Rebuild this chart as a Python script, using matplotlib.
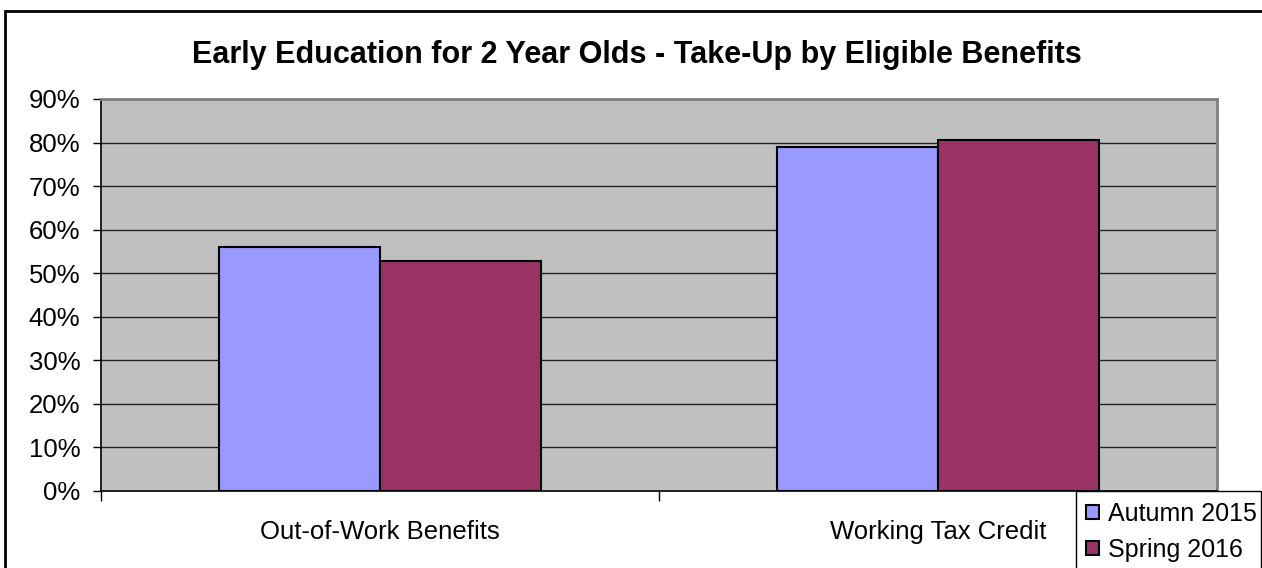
import matplotlib
matplotlib.use("Agg")
import matplotlib.pyplot as plt
from matplotlib.patches import Rectangle, Patch
import numpy as np

plt.rcParams['font.family'] = ['Liberation Sans', 'DejaVu Sans']

categories = ["Out-of-Work Benefits", "Working Tax Credit"]
series_names = ["Autumn 2015", "Spring 2016"]
autumn_2015 = [0.56, 0.789]
spring_2016 = [0.527, 0.807]
colors = ["#9999FF", "#993366"]
yticks = [0, 0.1, 0.2, 0.3, 0.4, 0.5, 0.6, 0.7, 0.8, 0.9]
ytick_labels = ["0%", "10%", "20%", "30%", "40%", "50%", "60%", "70%", "80%", "90%"]
title = "Early Education for 2 Year Olds - Take-Up by Eligible Benefits"

W, H = 1262, 568
fig = plt.figure(figsize=(W/100, H/100), dpi=100)
ax = fig.add_axes([101/W, 1-491/H, (1217-101)/W, (491-99)/H])
ax.set_facecolor("#C0C0C0")

x = np.arange(len(categories))
bw = 0.2885
ax.bar(x - bw/2, autumn_2015, bw, color=colors[0], edgecolor="black", linewidth=1.5, zorder=3)
ax.bar(x + bw/2, spring_2016, bw, color=colors[1], edgecolor="black", linewidth=1.5, zorder=3)

ax.set_xlim(-0.5, 1.5)
ax.set_ylim(0, 0.9)
ax.set_yticks(yticks)
ax.set_yticklabels(ytick_labels, fontsize=18.5)
ax.set_xticks(x)
ax.set_xticklabels(categories, fontsize=18.5)
ax.set_xticks([-0.5, 0.5, 1.5], minor=True)
ax.tick_params(axis='x', which='major', length=0, pad=21)
ax.tick_params(axis='x', which='minor', length=7, width=1, direction='out', color='black')
ax.tick_params(axis='y', length=6, width=1, direction='out', color='black', pad=9)

for t in yticks[1:-1]:
    ax.axhline(t, color="#222222", linewidth=1, zorder=1)

for s in ['top', 'right']:
    ax.spines[s].set_color("#808080")
    ax.spines[s].set_linewidth(2)
for s in ['left', 'bottom']:
    ax.spines[s].set_color("black")
    ax.spines[s].set_linewidth(1.2)

fig.text(637/W, 1-55/H, title, ha='center', va='center', fontsize=22, fontweight='bold')

# outer chart border
fig.patches.append(Rectangle((5/W, -0.1), 1.2, 1-11/H+0.1, transform=fig.transFigure,
                             fill=False, edgecolor='black', linewidth=2))
# legend box
fig.patches.append(Rectangle((1076/W, -0.1), (1261-1076)/W, 1-491/H+0.1, transform=fig.transFigure,
                             facecolor='white', edgecolor='black', linewidth=1, zorder=5))
handles = [Patch(facecolor=c, edgecolor='black', linewidth=1.5) for c in colors]
leg = fig.legend(handles, series_names, loc='upper left', bbox_to_anchor=(1086/W, 1-502/H),
                 frameon=False, fontsize=18, handlelength=0.52, handleheight=0.52,
                 handletextpad=0.36, labelspacing=0.48, borderaxespad=0, borderpad=0)
leg.set_zorder(6)

fig.savefig("out.png", dpi=100)
